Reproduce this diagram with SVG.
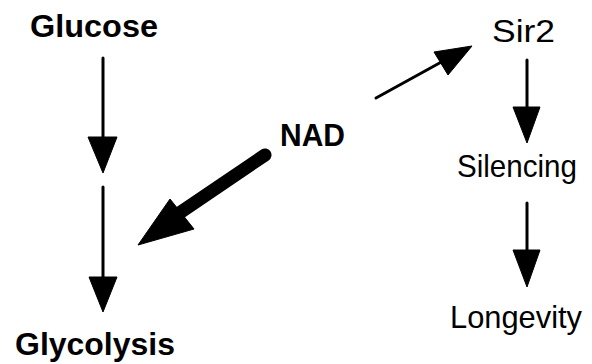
<svg xmlns="http://www.w3.org/2000/svg" width="592" height="364" viewBox="0 0 592 364">
<style>
.t{font-family:"Liberation Sans",Arial,sans-serif;fill:#000}
.b{font-weight:bold}
.ln{stroke:#000;stroke-width:3;fill:none;stroke-linecap:round}
.hd{fill:#000;stroke:#000;stroke-width:1;stroke-linejoin:round}
</style>
<rect width="592" height="364" fill="#fff"/>
<g id="glucose"><text class="t b" x="30" y="37" font-size="32" textLength="128" lengthAdjust="spacingAndGlyphs">Glucose</text></g>
<g id="glycolysis"><text class="t b" x="15" y="355" font-size="32" textLength="160" lengthAdjust="spacingAndGlyphs">Glycolysis</text></g>
<g id="nad"><text class="t b" x="280" y="146" font-size="32" textLength="65" lengthAdjust="spacingAndGlyphs">NAD</text></g>
<g id="sir2"><text class="t" x="492" y="42" font-size="32" textLength="63" lengthAdjust="spacingAndGlyphs">Sir2</text></g>
<g id="silencing"><text class="t" x="457" y="177" font-size="32" textLength="120" lengthAdjust="spacingAndGlyphs">Silencing</text></g>
<g id="longevity"><text class="t" x="450" y="328" font-size="32" textLength="132" lengthAdjust="spacingAndGlyphs">Longevity</text></g>
<g id="connectors">
<line class="ln" x1="103" y1="58" x2="103" y2="140"/>
<polygon class="hd" points="88,137 117,137 103,173"/>
<line class="ln" x1="103" y1="187" x2="103" y2="279"/>
<polygon class="hd" points="89,277 117,277 103,312"/>
<line class="ln" x1="376" y1="98" x2="445" y2="60" stroke-width="4"/>
<polygon class="hd" points="434,52 448,75 472,46"/>
<line class="ln" x1="527" y1="60" x2="527" y2="110"/>
<polygon class="hd" points="513,107 540,107 527,143"/>
<line class="ln" x1="527" y1="203" x2="527" y2="252"/>
<polygon class="hd" points="513,250 540,250 527,287"/>
<line stroke="#000" stroke-width="13" stroke-linecap="round" x1="265" y1="155" x2="178" y2="214"/>
<polygon class="hd" points="170,199 194,229 138,245"/>
</g>
</svg>
